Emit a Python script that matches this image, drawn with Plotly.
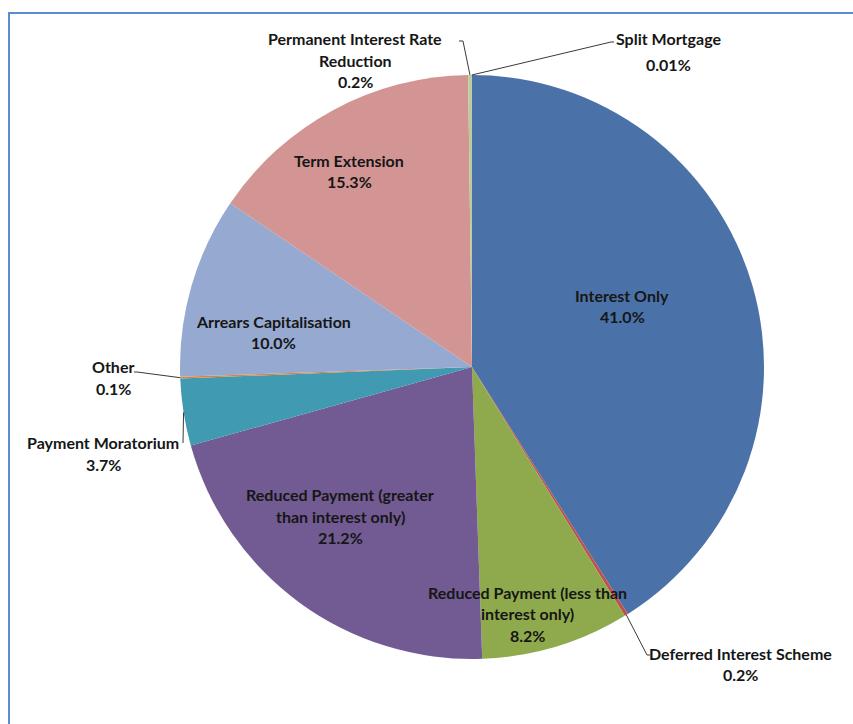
import math
import plotly.graph_objects as go

# Share of restructured mortgage accounts by arrangement type (%)
categories = [
    "Interest Only",
    "Deferred Interest Scheme",
    "Reduced Payment (less than interest only)",
    "Reduced Payment (greater than interest only)",
    "Payment Moratorium",
    "Other",
    "Arrears Capitalisation",
    "Term Extension",
    "Permanent Interest Rate Reduction",
    "Split Mortgage",
]
shares = [41.0, 0.2, 8.2, 21.2, 3.7, 0.1, 10.0, 15.3, 0.2, 0.01]
decimals = [1, 1, 1, 1, 1, 1, 1, 1, 1, 2]

colors = [
    "#4A72A8", "#C0504D", "#8FAA4C", "#725A92", "#3F9AB2",
    "#DB843D", "#95A9D1", "#D39594", "#B9CD96", "#A99BBD",
]

# how each category name is broken over lines in its label
wrapped = {
    "Reduced Payment (less than interest only)": ["Reduced Payment (less than", "interest only)"],
    "Reduced Payment (greater than interest only)": ["Reduced Payment (greater", "than interest only)"],
    "Permanent Interest Rate Reduction": ["Permanent Interest Rate", "Reduction"],
}

W, H = 853, 724
CX, CY, R = 472, 367, 292          # pie centre and radius in pixels

# label block anchor: (x centre, y of first line, line spacing) in pixels
label_pos = {
    "Interest Only": (622, 295, 21),
    "Deferred Interest Scheme": (740, 653, 21),
    "Reduced Payment (less than interest only)": (527, 592, 21.5),
    "Reduced Payment (greater than interest only)": (340, 495, 21),
    "Payment Moratorium": (103, 442, 22),
    "Other": (113, 367, 21),
    "Arrears Capitalisation": (273, 322, 20.5),
    "Term Extension": (349, 160, 21.5),
    "Permanent Interest Rate Reduction": (355, 38, 22),
    "Split Mortgage": (668, 38, 26),
}

# leader lines: category -> list of text-side points (pixels), drawn from the slice edge
leaders = {
    "Permanent Interest Rate Reduction": [(463, 41), (459, 41)],
    "Split Mortgage": [(611, 42), (614, 42)],
    "Other": [(137, 372), (134, 372)],
    "Payment Moratorium": [(183, 443)],
    "Deferred Interest Scheme": [(647, 655), (650, 655)],
}


def px(x, y):
    return x / W, 1 - y / H


fig = go.Figure(
    go.Pie(
        labels=categories,
        values=shares,
        sort=False,
        direction="clockwise",
        rotation=0,
        marker=dict(colors=colors, line=dict(width=0)),
        textinfo="none",
        hoverinfo="label+percent",
        showlegend=False,
        domain=dict(
            x=[(CX - R) / W, (CX + R) / W],
            y=[1 - (CY + R) / H, 1 - (CY - R) / H],
        ),
    )
)

total = sum(shares)
cum = 0.0
annotations = []
shapes = []
for name, v, d in zip(categories, shares, decimals):
    mid = (cum + v / 2) / total * 2 * math.pi
    cum += v
    lines = wrapped.get(name, [name]) + [f"{v:.{d}f}%"]
    x0, y0, lh = label_pos[name]
    for i, ln in enumerate(lines):
        ax, ay = px(x0, y0 + i * lh)
        annotations.append(dict(
            x=ax, y=ay, xref="paper", yref="paper", text=ln, showarrow=False,
            xanchor="center", yanchor="middle",
            font=dict(family="Lato", size=16, color="#161616", weight="bold"),
        ))
    if name in leaders:
        ex = CX + R * math.sin(mid)
        ey = CY - R * math.cos(mid)
        pts = [(ex, ey)] + leaders[name]
        path = "M " + " L ".join(f"{a / W:.5f},{1 - b / H:.5f}" for a, b in pts)
        shapes.append(dict(type="path", xref="paper", yref="paper", path=path,
                           line=dict(color="#3a3a3a", width=1)))

# blue outline frame around the chart
shapes.append(dict(type="rect", xref="paper", yref="paper",
                   x0=9 / W, x1=1.02, y0=-0.02, y1=1 - 13 / H,
                   line=dict(color="#5B8BD0", width=2), fillcolor="rgba(0,0,0,0)"))

fig.update_layout(
    width=W, height=H,
    margin=dict(l=0, r=0, t=0, b=0),
    paper_bgcolor="white",
    plot_bgcolor="white",
    annotations=annotations,
    shapes=shapes,
)

fig.write_html("out.html")
